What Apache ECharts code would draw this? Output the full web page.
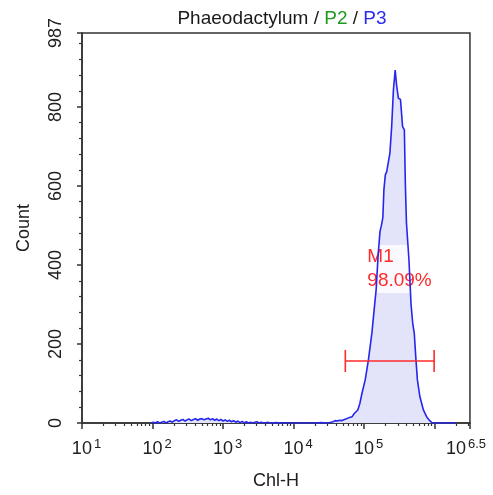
<!DOCTYPE html>
<html>
<head>
<meta charset="utf-8">
<script src="https://cdn.jsdelivr.net/npm/echarts@6/dist/echarts.min.js"></script>
<style>
  html, body { margin: 0; padding: 0; background: #ffffff; }
  #chart { width: 493px; height: 495px; }
</style>
</head>
<body>
<div id="chart"></div>
<script>
// Chl-H histogram: channel position as log10 exponent, event count per bin
const chlLog = [
  1.98, 2.01, 2.04, 2.07, 2.10, 2.13, 2.16, 2.19, 2.22, 2.25,
  2.28, 2.31, 2.34, 2.37, 2.40, 2.43, 2.46, 2.49, 2.52, 2.55,
  2.58, 2.61, 2.64, 2.67, 2.70, 2.73, 2.76, 2.79, 2.82, 2.85,
  2.88, 2.91, 2.94, 2.97, 3.00, 3.03, 3.06, 3.09, 3.12, 3.15,
  3.18, 3.21, 3.24, 3.27, 3.30, 3.33, 3.36, 3.39, 3.42, 3.45,
  3.48, 3.51, 3.54, 3.57, 3.60, 3.63, 3.66, 3.69, 3.75, 3.80,
  3.90, 4.00, 4.10, 4.20, 4.30, 4.40, 4.45, 4.50, 4.53, 4.56,
  4.59, 4.62, 4.65, 4.68, 4.71, 4.74, 4.78, 4.83, 4.86, 4.91,
  4.94, 4.97, 5.015, 5.06, 5.11, 5.155, 5.17, 5.20, 5.225, 5.245,
  5.265, 5.28, 5.30, 5.32, 5.345, 5.365, 5.39, 5.415, 5.44, 5.46,
  5.485, 5.515, 5.545, 5.57, 5.585, 5.60, 5.635, 5.665, 5.69, 5.71,
  5.735, 5.755, 5.79, 5.84, 5.885, 5.93, 5.965, 6.00, 6.10, 6.30
];
const counts = [
  0, 2, 0, 3, 0, 2, 4, 0, 3, 5,
  2, 6, 8, 4, 7, 9, 5, 8, 10, 6,
  9, 11, 7, 10, 11, 8, 10, 12, 8, 11,
  7, 10, 6, 9, 5, 8, 4, 7, 3, 6,
  2, 5, 1, 4, 0, 3, 0, 2, 0, 2,
  3, 0, 2, 0, 0, 2, 0, 0, 1, 0,
  0, 0, 0, 0, 0, 1, 0, 0, 2, 3,
  6, 5, 7, 6, 8, 10, 13, 16, 24, 33,
  50, 76, 109, 159, 228, 311, 337, 430, 485, 500,
  520, 590, 628, 636, 640, 683, 750, 843, 893, 855,
  822, 819, 750, 742, 600, 506, 413, 300, 250, 228,
  159, 109, 67, 33, 16, 6, 0, 0, 0, 0
];

// Axis ticks and labels
const xLabelExps = [1, 2, 3, 4, 5, 6.5];
const xMajorTicks = [1, 2, 3, 4, 5, 6, 6.5];
const yTicks = [0, 200, 400, 600, 800, 987];
const yMax = 987;

// M1 gate
const m1Range = [4.733, 5.992];
const m1Level = 157;
const m1Name = 'M1';
const m1Percent = '98.09%';

const FONT = '"Liberation Sans", Arial, sans-serif';
const AXIS_COLOR = '#333333';
const TEXT_COLOR = '#202020';
const RED = '#ff2a2a';

// minor ticks of the log axis: 2..9 x 10^n
const xMinorTicks = [];
for (let n = 1; n <= 6; n++) {
  for (let k = 2; k <= 9; k++) {
    const v = n + Math.log10(k);
    if (v < 6.5) xMinorTicks.push(v);
  }
}
const yMinorTicks = [];
for (let v = 40; v < yMax; v += 40) {
  if (v % 200 !== 0) yMinorTicks.push(v);
}

const histData = chlLog.map((x, i) => [x, counts[i]]);

const chart = echarts.init(document.getElementById('chart'), null, { renderer: 'canvas' });

const option = {
  animation: false,
  backgroundColor: '#ffffff',
  title: {
    text: '{k|Phaeodactylum / }{g|P2}{k| / }{b|P3}',
    left: 277,
    top: 4,
    textAlign: 'center',
    textStyle: {
      fontWeight: 'normal',
      rich: {
        k: { fontFamily: FONT, fontSize: 19, fontWeight: 'normal', color: '#1a1a1a' },
        g: { fontFamily: FONT, fontSize: 19, fontWeight: 'normal', color: '#1f9a1f' },
        b: { fontFamily: FONT, fontSize: 19, fontWeight: 'normal', color: '#2a2af0' }
      }
    }
  },
  grid: {
    left: 82, right: 21, top: 33, bottom: 72,
    show: true, borderColor: AXIS_COLOR, borderWidth: 1.5,
    backgroundColor: 'transparent'
  },
  xAxis: [
    {
      type: 'value', min: 1, max: 6.5, position: 'bottom',
      name: 'Chl-H', nameLocation: 'middle', nameGap: 49,
      nameTextStyle: { fontFamily: FONT, fontSize: 18, color: TEXT_COLOR },
      axisLine: { show: true, onZero: false, lineStyle: { color: AXIS_COLOR, width: 1.5 } },
      axisTick: { show: true, inside: false, length: 6, customValues: xMajorTicks,
                  lineStyle: { color: AXIS_COLOR, width: 1.5 } },
      splitLine: { show: false },
      axisLabel: {
        customValues: xLabelExps,
        margin: 15,
        formatter: function (v) {
          if (v === 6.5) return '{b|10}{s|6.5}{r|}';
          return '{l|}{b|10}{s|' + v + '}';
        },
        rich: {
          b: { fontFamily: FONT, fontSize: 18, color: TEXT_COLOR, lineHeight: 20, verticalAlign: 'bottom' },
          s: { fontFamily: FONT, fontSize: 13, color: TEXT_COLOR, lineHeight: 13, verticalAlign: 'top', padding: [0, 0, 0, 2] },
          l: { width: 9 },
          r: { width: 8 }
        }
      }
    },
    {
      type: 'value', min: 1, max: 6.5, position: 'bottom', gridIndex: 0,
      axisLine: { show: false, onZero: false },
      axisTick: { show: true, inside: false, length: 3, customValues: xMinorTicks,
                  lineStyle: { color: AXIS_COLOR, width: 1.2 } },
      axisLabel: { show: false },
      splitLine: { show: false }
    }
  ],
  yAxis: [
    {
      type: 'value', min: 0, max: yMax, position: 'left',
      name: 'Count', nameLocation: 'middle', nameGap: 49,
      nameTextStyle: { fontFamily: FONT, fontSize: 18, color: TEXT_COLOR },
      axisLine: { show: true, onZero: false, lineStyle: { color: AXIS_COLOR, width: 1.5 } },
      axisTick: { show: true, inside: false, length: 5, customValues: yTicks,
                  lineStyle: { color: AXIS_COLOR, width: 1.5 } },
      splitLine: { show: false },
      axisLabel: {
        customValues: yTicks, rotate: 90, margin: 17,
        fontFamily: FONT, fontSize: 18, color: TEXT_COLOR
      }
    },
    {
      type: 'value', min: 0, max: yMax, position: 'left', gridIndex: 0,
      axisLine: { show: false, onZero: false },
      axisTick: { show: true, inside: false, length: 3, customValues: yMinorTicks,
                  lineStyle: { color: AXIS_COLOR, width: 1.2 } },
      axisLabel: { show: false },
      splitLine: { show: false }
    }
  ],
  series: [
    {
      // filled area under the histogram
      type: 'line', xAxisIndex: 0, yAxisIndex: 0, z: 1,
      data: histData, showSymbol: false, smooth: false,
      lineStyle: { width: 0, opacity: 0 },
      areaStyle: { color: '#e3e3fa', opacity: 1 }
    },
    {
      // M1 gate label
      type: 'custom', xAxisIndex: 0, yAxisIndex: 0, z: 2,
      data: [[m1Range[0], m1Range[1], m1Level]],
      encode: { x: [0, 1], y: 2 },
      renderItem: function (params, api) {
        const lo = api.coord([api.value(0), api.value(2)]);
        return {
          type: 'text',
          x: lo[0] + 20,
          y: lo[1] - 116,
          style: {
            text: m1Name + '\n' + m1Percent,
            fill: RED,
            font: '19px ' + FONT,
            lineHeight: 24,
            align: 'left', verticalAlign: 'top',
            textAlign: 'left', textVerticalAlign: 'top',
            backgroundColor: 'rgba(255,255,255,0.8)',
            padding: [0, 2]
          }
        };
      }
    },
    {
      // histogram outline
      type: 'line', xAxisIndex: 0, yAxisIndex: 0, z: 3,
      data: histData, showSymbol: false, smooth: false,
      lineStyle: { color: '#2626ee', width: 1.6 }
    },
    {
      // M1 gate range bar with end caps
      type: 'custom', xAxisIndex: 0, yAxisIndex: 0, z: 4,
      data: [[m1Range[0], m1Range[1], m1Level]],
      encode: { x: [0, 1], y: 2 },
      renderItem: function (params, api) {
        const lo = api.coord([api.value(0), api.value(2)]);
        const hi = api.coord([api.value(1), api.value(2)]);
        const cap = 11;
        const st = { stroke: RED, lineWidth: 1.6 };
        return {
          type: 'group',
          children: [
            { type: 'line', shape: { x1: lo[0], y1: lo[1], x2: hi[0], y2: hi[1] }, style: st },
            { type: 'line', shape: { x1: lo[0], y1: lo[1] - cap, x2: lo[0], y2: lo[1] + cap }, style: st },
            { type: 'line', shape: { x1: hi[0], y1: hi[1] - cap, x2: hi[0], y2: hi[1] + cap }, style: st }
          ]
        };
      }
    }
  ]
};

chart.setOption(option);
</script>
</body>
</html>
